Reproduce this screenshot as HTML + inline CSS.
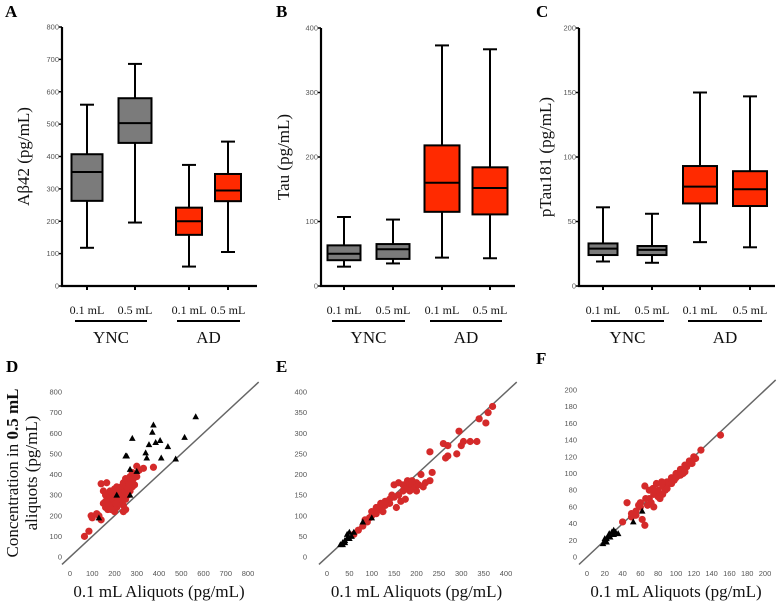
<!DOCTYPE html>
<html><head><meta charset="utf-8"><style>
body{margin:0;background:#fff}
svg{display:block}
.tk{font-family:"Liberation Sans",sans-serif;font-size:7.5px;fill:#555}
.lb{font-family:"Liberation Serif",serif;font-size:12px;fill:#111}
.ti{font-family:"Liberation Serif",serif;font-size:17px;fill:#111}
.pl{font-family:"Liberation Serif",serif;font-size:17px;font-weight:bold;fill:#000}
</style></head><body>
<svg id="fig" width="778" height="603" viewBox="0 0 778 603" xmlns="http://www.w3.org/2000/svg"></svg>
<script>
// ---- box plot data: [whiskerLow, q1, median, q3, whiskerHigh]
const groupLabels = ["0.1 mL","0.5 mL","0.1 mL","0.5 mL"];
const cohortLabels = ["YNC","AD"];
const abetaBoxes = [[118,263,352,407,560],[196,442,503,580,686],[60,158,200,242,374],[105,262,295,346,446]];
const tauBoxes = [[30,40,50,63,107],[35,42,57,65,103],[44,115,160,218,373],[43,111,152,184,367]];
const ptauBoxes = [[19,24,29,33,61],[18,24,28,31,56],[34,64,77,93,150],[30,62,75,89,147]];
const abetaTicks = [0,100,200,300,400,500,600,700,800];
const tauTicks = [0,100,200,300,400];
const ptauTicks = [0,50,100,150,200];
// ---- scatter data [x(0.1 mL), y(0.5 mL)]
const dRed = [[65,100],[85,125],[95,200],[100,190],[140,355],[150,320],[160,300],[170,280],[180,260],[190,270],[200,250],[210,300],[220,330],[230,340],[240,360],[250,380],[260,370],[270,390],[280,410],[290,400],[300,440],[310,420],[330,430],[375,435],[150,260],[160,240],[170,230],[180,290],[190,310],[200,330],[210,340],[220,290],[230,270],[240,250],[250,280],[260,300],[270,320],[280,340],[290,350],[200,220],[210,240],[220,260],[140,180],[130,200],[160,270],[175,250],[185,230],[195,280],[205,260],[215,280],[225,310],[235,300],[245,320],[255,340],[265,350],[275,370],[285,380],[300,390],[250,230],[240,220],[120,210],[165,360],[180,320]];
const dBlack = [[250,490],[255,490],[280,575],[375,640],[370,605],[355,545],[385,555],[405,565],[440,535],[345,480],[340,505],[410,480],[475,475],[515,580],[565,680],[270,425],[300,415],[210,300],[270,300],[130,190]];
const eRed = [[60,55],[70,65],[80,75],[90,85],[100,100],[110,105],[120,115],[130,125],[140,130],[150,145],[160,150],[170,160],[180,170],[190,175],[200,180],[210,200],[220,180],[230,185],[235,205],[150,175],[160,180],[170,175],[180,185],[140,140],[130,135],[120,130],[110,120],[100,110],[155,120],[165,135],[175,140],[185,160],[195,165],[200,160],[230,255],[260,275],[265,240],[270,245],[270,270],[290,250],[295,305],[300,270],[305,280],[320,280],[335,280],[340,335],[355,325],[360,350],[370,365],[85,90],[95,95],[125,110],[145,150],[175,165],[190,185],[205,175],[215,170]];
const eBlack = [[30,30],[35,35],[40,40],[45,45],[50,60],[45,55],[55,50],[40,35],[35,30],[60,60],[80,85],[100,95],[50,45]];
const fRed = [[40,42],[45,65],[50,48],[55,55],[60,60],[62,45],[65,38],[65,85],[70,70],[72,65],[75,75],[78,88],[80,80],[82,70],[85,85],[88,80],[90,90],[92,88],[95,95],[98,92],[100,100],[102,97],[105,105],[108,100],[110,110],[112,108],[115,115],[118,112],[120,120],[122,118],[128,128],[150,146],[60,65],[70,80],[75,60],[85,75],[95,88],[105,98],[58,62],[68,62],[80,72],[90,82],[66,70],[74,82],[84,90],[100,95],[110,102],[115,112],[55,50],[50,52]];
const fBlack = [[18,16],[20,20],[22,22],[24,25],[25,28],[28,30],[30,27],[32,30],[35,28],[22,18],[26,24],[52,42],[62,55],[30,32],[20,22]];
const dTicks=[0,100,200,300,400,500,600,700,800];
const eTicks=[0,50,100,150,200,250,300,350,400];
const fTicks=[0,20,40,60,80,100,120,140,160,180,200];

const NS="http://www.w3.org/2000/svg";
const svg=document.getElementById('fig');
function el(tag,attrs,parent,text){const e=document.createElementNS(NS,tag);for(const k in attrs)e.setAttribute(k,attrs[k]);if(text!==undefined)e.textContent=text;(parent||svg).appendChild(e);return e;}

function boxPanel(cfg){
  const g=el('g',{});
  
  
  const max=cfg.ticks[cfg.ticks.length-1];
  const y=v=>cfg.bottom-(v/max)*(cfg.bottom-cfg.top);
  const l=el('text',{x:cfg.letterX,y:17,class:'pl'},g,cfg.letter);
  
  
  const ax=el('line',{x1:cfg.ax,y1:cfg.top,x2:cfg.ax,y2:cfg.bottom+1,stroke:'#000','stroke-width':2.2},g);
  
  
  const xa=el('line',{x1:cfg.ax-1,y1:cfg.bottom,x2:cfg.xend,y2:cfg.bottom,stroke:'#000','stroke-width':2.2},g);
  
  
  cfg.ticks.forEach(t=>{
    el('line',{x1:cfg.ax-3,y1:y(t),x2:cfg.ax,y2:y(t),stroke:'#000','stroke-width':1.5},g);
    const tl=el('text',{x:cfg.ax-3,y:y(t)+2.5,class:'tk','text-anchor':'end'},g,String(t));
    
    
  });
  const tt=el('text',{x:cfg.titleX,y:(cfg.top+cfg.bottom)/2,class:'ti','text-anchor':'middle',transform:`rotate(-90 ${cfg.titleX} ${(cfg.top+cfg.bottom)/2})`},g,cfg.title);
  
  
  cfg.boxes.forEach((b,i)=>{
    const cx=cfg.centers[i], w=cfg.widths[i], fill=i<2?'#7b7b7b':'#ff2a00';
    const bg=el('g',{},g);
    
    
    el('line',{x1:cx,y1:y(b[0]),x2:cx,y2:y(b[4]),stroke:'#000','stroke-width':2},bg);
    el('line',{x1:cx-7,y1:y(b[0]),x2:cx+7,y2:y(b[0]),stroke:'#000','stroke-width':2},bg);
    el('line',{x1:cx-7,y1:y(b[4]),x2:cx+7,y2:y(b[4]),stroke:'#000','stroke-width':2},bg);
    el('rect',{x:cx-w/2,y:y(b[3]),width:w,height:y(b[1])-y(b[3]),fill:fill,stroke:'#000','stroke-width':2},bg);
    el('line',{x1:cx-w/2,y1:y(b[2]),x2:cx+w/2,y2:y(b[2]),stroke:'#000','stroke-width':2},bg);
    el('line',{x1:cx,y1:cfg.bottom,x2:cx,y2:cfg.bottom+4,stroke:'#000','stroke-width':2},g);
    const gl=el('text',{x:cx,y:314,class:'lb','text-anchor':'middle'},g,groupLabels[i]);
    
    
  });
  [0,1].forEach(k=>{
    const a=cfg.centers[k*2]-12,b2=cfg.centers[k*2+1]+12;
    el('line',{x1:a,y1:321,x2:b2,y2:321,stroke:'#000','stroke-width':2},g);
    const cl=el('text',{x:(a+b2)/2,y:343,class:'ti','text-anchor':'middle','font-size':'15'},g,cohortLabels[k]);
    
    
  });
}
boxPanel({name:'panel-a-abeta42',letter:'A',letterX:5,ax:62,top:27,bottom:286,xend:257,ticks:abetaTicks,boxes:abetaBoxes,centers:[87,135,189,228],widths:[31,33,26,26],title:'Aβ42 (pg/mL)',titleX:29});
boxPanel({name:'panel-b-tau',letter:'B',letterX:276,ax:321,top:28,bottom:286,xend:515,ticks:tauTicks,boxes:tauBoxes,centers:[344,393,442,490],widths:[33,33,35,35],title:'Tau (pg/mL)',titleX:289});
boxPanel({name:'panel-c-ptau181',letter:'C',letterX:536,ax:579,top:28,bottom:286,xend:775,ticks:ptauTicks,boxes:ptauBoxes,centers:[603,652,700,750],widths:[29,29,34,34],title:'pTau181 (pg/mL)',titleX:551});

function scatterPanel(cfg){
  const g=el('g',{});
  
  
  const max=cfg.ticks[cfg.ticks.length-1];
  const x=v=>cfg.x0+(v/max)*(cfg.x1-cfg.x0);
  const y=v=>cfg.y0-(v/max)*(cfg.y0-cfg.y1);
  const l=el('text',{x:cfg.letterX,y:cfg.letterY,class:'pl'},g,cfg.letter);
  
  
  cfg.ticks.forEach(t=>{
    const a=el('text',{x:cfg.ylabX,y:y(t)+2.5,class:'tk','text-anchor':'end'},g,String(t));
    
    
    const b=el('text',{x:x(t),y:576,class:'tk','text-anchor':'middle'},g,String(t));
    
    
  });
  const lo=-0.045*max, hi=1.06*max;
  const id=el('line',{x1:x(lo),y1:y(lo),x2:x(hi),y2:y(hi),stroke:'#666','stroke-width':1.5},g);
  
  
  cfg.red.forEach(p=>{
    const c=el('circle',{cx:x(p[0]),cy:y(p[1]),r:3.6,fill:'#d42a2a'},g);
    
    
  });
  cfg.black.forEach(p=>{
    const px=x(p[0]),py=y(p[1]);
    const t=el('polygon',{points:`${px},${py-3.5} ${px-3.3},${py+2.5} ${px+3.3},${py+2.5}`,fill:'#000'},g);
    
    
  });
  const xt=el('text',{x:(cfg.x0+cfg.x1)/2,y:597,class:'ti','text-anchor':'middle','font-size':'15.5'},g,'0.1 mL Aliquots (pg/mL)');
  
  
}
scatterPanel({name:'panel-d-abeta42-scatter',letter:'D',letterX:6,letterY:372,x0:70,x1:248,y0:557,y1:392,ylabX:62,ticks:dTicks,red:dRed,black:dBlack});
scatterPanel({name:'panel-e-tau-scatter',letter:'E',letterX:276,letterY:372,x0:327,x1:506,y0:557,y1:392,ylabX:307,ticks:eTicks,red:eRed,black:eBlack});
scatterPanel({name:'panel-f-ptau-scatter',letter:'F',letterX:536,letterY:364,x0:587,x1:765,y0:557,y1:390,ylabX:577,ticks:fTicks,red:fRed,black:fBlack});

const yt=el('text',{x:18,y:473,class:'ti','text-anchor':'middle',transform:'rotate(-90 18 473)'});


el('tspan',{},yt,'Concentration in ');
el('tspan',{'font-weight':'bold'},yt,'0.5 mL');
const yt2=el('text',{x:37,y:473,class:'ti','text-anchor':'middle',transform:'rotate(-90 37 473)'},svg,'aliquots (pg/mL)');


</script>
</body></html>
